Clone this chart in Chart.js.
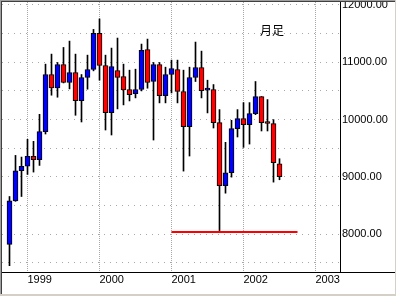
<!DOCTYPE html>
<html>
<head>
<meta charset="utf-8">
<script src="https://cdn.jsdelivr.net/npm/chart.js@4"></script>
<style>
  html, body { margin: 0; padding: 0; background: #fff; }
  #wrap { width: 396px; height: 296px; }
</style>
</head>
<body>
<div id="wrap"><canvas id="chart" width="396" height="296"></canvas></div>
<script>
// --------------------------------------------------------------------
// Data - monthly candles (月足), Oct 1998 .. Jul 2002
// --------------------------------------------------------------------
const months = [
    '1998-10', '1998-11', '1998-12',
    '1999-01', '1999-02', '1999-03', '1999-04', '1999-05', '1999-06',
    '1999-07', '1999-08', '1999-09', '1999-10', '1999-11', '1999-12',
    '2000-01', '2000-02', '2000-03', '2000-04', '2000-05', '2000-06',
    '2000-07', '2000-08', '2000-09', '2000-10', '2000-11', '2000-12',
    '2001-01', '2001-02', '2001-03', '2001-04', '2001-05', '2001-06',
    '2001-07', '2001-08', '2001-09', '2001-10', '2001-11', '2001-12',
    '2002-01', '2002-02', '2002-03', '2002-04', '2002-05', '2002-06',
    '2002-07'
];
const openVals = [
    7825, 8583, 9108,
    9190, 9359, 9300, 9790, 10787, 10554,
    10962, 10647, 10822, 10332, 10735, 10875,
    11504, 10944, 10122, 10857, 10752, 10525,
    10455, 10525, 11224, 10665, 10962, 10420,
    10787, 10875, 10490, 9878, 10735, 10909,
    10514, 10525, 9948, 8846, 9073, 9843,
    10017, 9913, 10105, 10402, 9940, 9930,
    9230
];
const highVals = [
    8659, 9376, 9347,
    9656, 9621, 10093, 10968, 11143, 10997,
    11259, 11370, 11143, 10787, 11125, 11574,
    11757, 11125, 11248, 11423, 10968, 10863,
    10880, 11318, 11405, 10997, 10997, 10915,
    11038, 11038, 10863, 10915, 11353, 11195,
    10688, 10612, 10175, 9604, 9988, 10175,
    10297, 10297, 10665, 10402, 10350, 10000,
    9318
];
const lowVals = [
    7452, 8575, 8659,
    9044, 9085, 9201, 9749, 10426, 10391,
    10640, 10536, 10076, 9959, 10531, 10851,
    10688, 9819, 9732, 10187, 10257, 10326,
    10379, 10501, 10548, 9644, 10292, 10292,
    10466, 10292, 9102, 9365, 10665, 10379,
    10117, 9854, 8047, 8717, 8997, 9697,
    9516, 9574, 10087, 9802, 9802, 8910,
    8951
];
const closeVals = [
    8583, 9108, 9184,
    9359, 9300, 9790, 10787, 10554, 10962,
    10647, 10822, 10332, 10735, 10875, 11504,
    10944, 10122, 10927, 10735, 10519, 10437,
    10525, 11207, 10647, 10962, 10420, 10787,
    10892, 10490, 9878, 10735, 10909, 10507,
    10522, 9948, 8846, 9073, 9843, 10017,
    9913, 10105, 10402, 9948, 9932, 9248,
    9003
];

// support line (red)
const supportLevel = 8040;
const supportFrom = '2001-01';
const supportTo = '2002-10';

// axis ticks
const yearLabels = ['1999', '2000', '2001', '2002', '2003'];
const priceGrid = [7500, 8000, 8500, 9000, 9500, 10000, 10500, 11000, 11500, 12000];
const priceLabels = [8000, 9000, 10000, 11000, 12000];

const title = '月足';

// --------------------------------------------------------------------
// Helpers
// --------------------------------------------------------------------
const [baseYear, baseMonth] = months[0].split('-').map(Number);
function monthIndex(label) {
    const [y, m] = label.split('-').map(Number);
    return (y - baseYear) * 12 + (m - baseMonth);
}
const yearPos = yearLabels.map(y => monthIndex(y + '-01'));

const UP = '#0000ff';
const DOWN = '#ff0000';
const font = { family: "'Liberation Sans', Arial, sans-serif", size: 11 };

const bodies = months.map((m, i) => ({ x: i, y: [openVals[i], closeVals[i]] }));
const wicks = months.map((m, i) => ({ x: i, y: [lowVals[i], highVals[i]] }));
const bodyColors = months.map((m, i) => closeVals[i] >= openVals[i] ? UP : DOWN);

// --------------------------------------------------------------------
// Frame / title plugin
// --------------------------------------------------------------------
const framePlugin = {
    id: 'frame',
    beforeDraw(chart) {
        const ctx = chart.ctx;
        ctx.save();
        ctx.fillStyle = '#fff';
        ctx.fillRect(0, 0, chart.width, chart.height);
        ctx.restore();
    },
    afterDraw(chart) {
        const { ctx, chartArea } = chart;
        ctx.save();
        // x axis line runs on under the price labels
        ctx.fillStyle = '#000';
        ctx.fillRect(chartArea.right, Math.round(chartArea.bottom), chart.width - chartArea.right, 1);

        // 月足
        ctx.fillStyle = '#000';
        ctx.font = "12px 'Noto Sans CJK JP'";
        ctx.textBaseline = 'middle';
        ctx.textAlign = 'left';
        ctx.fillText(title, 260, 30);

        // window edge
        ctx.fillStyle = '#a0a0a0';
        ctx.fillRect(0, 0, chart.width, 1);
        ctx.fillRect(0, 0, 1, chart.height);
        ctx.fillStyle = '#404040';
        ctx.fillRect(1, 1, chart.width - 1, 1);
        ctx.fillRect(1, 1, 1, chart.height - 1);
        ctx.fillStyle = '#d4d0c8';
        ctx.fillRect(0, chart.height - 2, chart.width, 2);
        ctx.fillRect(chart.width - 1, 0, 1, chart.height);
        ctx.restore();
    }
};

// --------------------------------------------------------------------
// Chart
// --------------------------------------------------------------------
new Chart(document.getElementById('chart'), {
    type: 'bar',
    data: {
        datasets: [
            {
                type: 'line',
                data: [
                    { x: monthIndex(supportFrom), y: supportLevel },
                    { x: monthIndex(supportTo), y: supportLevel }
                ],
                borderColor: '#ff0000',
                borderWidth: 2,
                pointRadius: 0,
                fill: false
            },
            {
                data: bodies,
                backgroundColor: bodyColors,
                borderColor: '#000',
                borderWidth: 1,
                borderSkipped: false,
                barThickness: 5,
                minBarLength: 2,
                grouped: false
            },
            {
                data: wicks,
                backgroundColor: '#000',
                borderWidth: 0,
                barThickness: 1,
                grouped: false
            }
        ]
    },
    plugins: [framePlugin],
    options: {
        responsive: false,
        animation: false,
        devicePixelRatio: 1,
        layout: { padding: { left: 2, top: 2, right: 0, bottom: 0 } },
        plugins: { legend: { display: false }, tooltip: { enabled: false } },
        scales: {
            x: {
                type: 'linear',
                min: -1.25,
                max: 55.0833,
                offset: false,
                grid: { offset: false, color: '#a8a8a8', drawTicks: false },
                border: { display: true, color: '#000', width: 1, dash: [1, 1] },
                afterBuildTicks: scale => {
                    scale.ticks = yearPos.map(v => ({ value: v }));
                },
                afterFit: scale => {
                    scale.height = 24;
                    scale.paddingLeft = 0;
                    scale.paddingRight = 0;
                },
                ticks: {
                    autoSkip: false,
                    maxRotation: 0,
                    align: 'start',
                    padding: 1,
                    color: '#000',
                    font: font,
                    callback: v => {
                        const k = yearPos.indexOf(v);
                        return k >= 0 ? yearLabels[k] : '';
                    }
                }
            },
            y: {
                position: 'right',
                min: 7342,
                max: 12052,
                beginAtZero: false,
                grid: { color: '#a8a8a8', drawTicks: false },
                border: { display: true, color: '#000', width: 1, dash: [1, 5] },
                afterBuildTicks: scale => {
                    scale.ticks = priceGrid.map(v => ({ value: v }));
                },
                afterFit: scale => {
                    scale.width = 56;
                    scale.paddingTop = 0;
                    scale.paddingBottom = 0;
                },
                ticks: {
                    autoSkip: false,
                    padding: 2,
                    color: '#000',
                    font: font,
                    callback: v => priceLabels.includes(v) ? v.toFixed(2) : ''
                }
            }
        }
    }
});
</script>
</body>
</html>
